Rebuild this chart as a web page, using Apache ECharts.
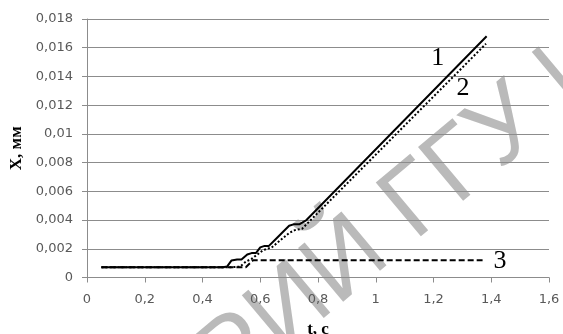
<!DOCTYPE html>
<html>
<head>
<meta charset="utf-8">
<script src="https://cdn.jsdelivr.net/npm/echarts@6/dist/echarts.min.js"></script>
<style>html,body{margin:0;padding:0;background:#fff}#c{width:563px;height:334px}</style>
</head>
<body>
<div id="c"></div>
<script>
// Curve 1 (solid)
var curve1 = [
  [0.05, 0.00072], [0.47, 0.00072], [0.485, 0.00076], [0.50, 0.00118], [0.52, 0.00125],
  [0.535, 0.00125], [0.555, 0.0016], [0.57, 0.0017], [0.585, 0.0017], [0.60, 0.0021],
  [0.615, 0.0022], [0.63, 0.0022], [0.655, 0.0027], [0.68, 0.0032], [0.70, 0.0036],
  [0.715, 0.0037], [0.735, 0.0037], [0.76, 0.0040], [1.384, 0.0168]
];
// Curve 2 (dotted)
var curve2 = [
  [0.05, 0.00072], [0.50, 0.00072], [0.53, 0.00076], [0.55, 0.0011], [0.57, 0.0013],
  [0.59, 0.0016], [0.61, 0.0019], [0.64, 0.0021], [0.67, 0.0026], [0.70, 0.0031],
  [0.72, 0.0033], [0.745, 0.0034], [1.382, 0.01628]
];
// Curve 3 (dashed)
var curve3 = [
  [0.05, 0.00072], [0.55, 0.00072], [0.575, 0.0012], [1.37, 0.0012]
];
var curveLabels = ['1', '2', '3'];
// anchor of each curve's number label, in data units [t, X]
var curveLabelAt = [[1.215, 0.01525], [1.302, 0.0132], [1.43, 0.00115]];
var xTicks = [0, 0.2, 0.4, 0.6, 0.8, 1, 1.2, 1.4, 1.6];
var yTicks = [0, 0.002, 0.004, 0.006, 0.008, 0.01, 0.012, 0.014, 0.016, 0.018];
var xName = 't, c';
var yName = 'X, мм';
var watermark = 'РИЙ ГГУ ИМ';

function fmt(v) {
  return String(parseFloat(v.toFixed(4))).replace('.', ',');
}

var chart = echarts.init(document.getElementById('c'), null, {renderer: 'canvas'});
var gray = '#8c8c8c';
var labelFont = {fontFamily: 'DejaVu Sans', fontSize: 13, color: '#595959'};

function numMark(i) {
  return {
    silent: true, symbol: 'circle', symbolSize: 0,
    label: {show: true, position: 'inside', formatter: curveLabels[i],
            fontFamily: 'Liberation Serif', fontSize: 26, color: '#000'},
    data: [{coord: curveLabelAt[i]}]
  };
}

chart.setOption({
  animation: false,
  grid: {left: 87, right: 14, top: 19, bottom: 56.5, containLabel: false, outerBoundsMode: 'none'},
  xAxis: {
    type: 'value', min: xTicks[0], max: xTicks[xTicks.length - 1], interval: 0.2,
    axisLine: {show: true, onZero: false, lineStyle: {color: gray, width: 1}},
    axisTick: {show: true, length: 5, inside: false, lineStyle: {color: gray}},
    splitLine: {show: false},
    axisLabel: Object.assign({margin: 16, formatter: fmt}, labelFont),
    name: xName, nameLocation: 'middle', nameGap: 44,
    nameTextStyle: {fontFamily: 'Liberation Serif', fontWeight: 'bold', fontSize: 17, color: '#000'}
  },
  yAxis: {
    type: 'value', min: yTicks[0], max: yTicks[yTicks.length - 1], interval: 0.002,
    axisLine: {show: true, lineStyle: {color: gray, width: 1}},
    axisTick: {show: true, length: 5, inside: false, lineStyle: {color: gray}},
    splitLine: {show: true, lineStyle: {color: gray, width: 1}},
    axisLabel: Object.assign({margin: 14, formatter: fmt}, labelFont),
    name: yName, nameLocation: 'middle', nameGap: 62, nameRotate: 90,
    nameTextStyle: {fontFamily: 'Liberation Serif', fontWeight: 'bold', fontSize: 17, color: '#000'}
  },
  graphic: [{
    type: 'text', x: 442, y: 182, rotation: 40 * Math.PI / 180, z: -10, silent: true,
    style: {text: watermark, font: '102px "Liberation Sans"', fill: 'rgba(130,130,130,0.55)',
            textAlign: 'center', textVerticalAlign: 'middle'}
  }],
  series: [
    {type: 'line', data: curve3, symbol: 'none', z: 3,
     lineStyle: {color: '#000', width: 2, type: [6, 3]}, markPoint: numMark(2)},
    {type: 'line', data: curve2, symbol: 'none', z: 4,
     lineStyle: {color: '#000', width: 2, type: [2, 2]}, markPoint: numMark(1)},
    {type: 'line', data: curve1, symbol: 'none', z: 5,
     lineStyle: {color: '#000', width: 2}, markPoint: numMark(0)}
  ]
});
</script>
</body>
</html>
